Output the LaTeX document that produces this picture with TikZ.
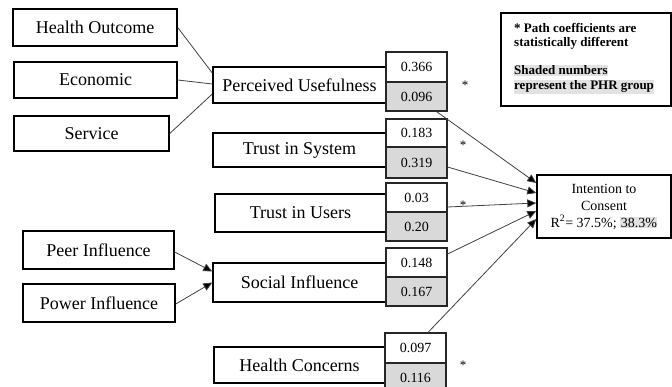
\documentclass[tikz,border=0pt]{standalone}
\usepackage{fontspec}
\setmainfont{Liberation Serif}
\usetikzlibrary{arrows.meta,calc}
\definecolor{shade}{HTML}{D9D9D9}
\definecolor{hl}{HTML}{E2E2E2}
\definecolor{lin}{HTML}{404040}
\begin{document}
\begin{tikzpicture}[x=1pt,y=-1pt,
  mainbox/.style={draw=black,line width=1.4pt,minimum width=173pt,inner sep=0pt,font=\fontsize{18}{20}\selectfont},
  cbox/.style={draw=black!85,line width=1.1pt,minimum width=61pt,inner sep=0pt,font=\fontsize{14}{15}\selectfont},
  ctop/.style={cbox,fill=white},
  cshade/.style={cbox,fill=shade},
  conn/.style={draw=lin,line width=0.8pt},
  arr/.style={conn,-{Triangle[length=9pt,width=8pt,fill=black]}},
  star/.style={font=\fontsize{13}{13}\selectfont,inner sep=0pt},
  legline/.style={anchor=base west,inner xsep=0pt,inner ysep=1.2pt,font=\fontsize{13}{14}\bfseries\selectfont},
]
\useasboundingbox (0,0) rectangle (672,387);

% left boxes
\node[mainbox,minimum width=164pt,minimum height=37pt] (ho) at (95,27.5) {Health Outcome};
\node[mainbox,minimum width=163pt,minimum height=36pt] (eco) at (95.5,80) {Economic};
\node[mainbox,minimum width=155pt,minimum height=35pt] (ser) at (91.5,133.5) {Service};
\node[mainbox,minimum width=151pt,minimum height=38pt] (peer) at (98.5,250) {Peer Influence};
\node[mainbox,minimum width=152pt,minimum height=38pt] (pow) at (99,303) {Power Influence};

% middle boxes
\node[mainbox,minimum height=36pt] (pu) at (299.5,85) {Perceived Usefulness};
\node[mainbox,minimum height=34pt] (ts) at (299.5,150) {Trust in System};
\node[mainbox,minimum width=171pt,minimum height=38pt] (tu) at (300.5,213) {Trust in Users};
\node[mainbox,minimum height=39pt] (si) at (299.5,282.5) {Social Influence};
\node[mainbox,minimum width=171pt,minimum height=36pt] (hc) at (299.5,365) {Health Concerns};

% coefficient boxes
\node[ctop,minimum height=30pt] (c1a) at (416.5,67) {0.366};
\node[cshade,minimum height=29pt] (c1b) at (416.5,96.5) {0.096};
\node[ctop,minimum height=28pt] (c2a) at (416.5,133) {0.183};
\node[cshade,minimum height=31pt] (c2b) at (416.5,162.5) {0.319};
\node[ctop,minimum height=29pt] (c3a) at (416.5,197.5) {0.03};
\node[cshade,minimum height=29pt] (c3b) at (416.5,226.5) {0.20};
\node[ctop,minimum height=29pt] (c4a) at (416.5,262.5) {0.148};
\node[cshade,minimum height=29pt] (c4b) at (416.5,291.5) {0.167};
\node[ctop,minimum height=30pt] (c5a) at (415.5,348) {0.097};
\node[cshade,minimum height=29pt] (c5b) at (415.5,377.5) {0.116};

% stars
\node[star] (s1) at (465,85) {*};
\node[star] (s2) at (463,145) {*};
\node[star] (s3) at (463,205) {*};
\node[star] (s4) at (463,365) {*};

% outcome
\node[draw=black,line width=1.4pt,minimum width=134pt,minimum height=63pt,inner sep=0pt,align=center,
      font=\fontsize{14}{17}\selectfont] (icn) at (604,206.5)
  {Intention to\\Consent\\R\textsuperscript{2}= 37.5\%; {\setlength{\fboxsep}{0.5pt}\colorbox{hl}{38.3\%}}};

% legend
\node[draw=black,line width=1.4pt,minimum width=170pt,minimum height=93pt,inner sep=0pt] (leg) at (586,59.5) {};
\node[legline] (l1) at (514,33) {* Path coefficients are};
\node[legline] (l2) at (514,47) {statistically different};
\node[legline,fill=hl] (l3) at (514,75) {Shaded numbers};
\node[legline,fill=hl] (l4) at (514,90) {represent the PHR group};

% connectors to PU
\draw[conn] (ho.east) -- ([yshift=12pt]pu.west);
\draw[conn] (eco.east) -- ([yshift=1pt]pu.west);
\draw[conn] (ser.east) -- ([yshift=-9pt]pu.west);

% social influence
\draw[arr] ([yshift=-2pt]peer.east) -- ([yshift=11pt]si.west);
\draw[arr] ([yshift=-1pt]pow.east) -- ([yshift=0pt]si.west);

% to intention
\draw[arr] ([xshift=20pt]c1b.south) -- ([yshift=23.5pt]icn.west);
\draw[arr] ([yshift=-4.5pt]c2b.east) -- ([yshift=13.5pt]icn.west);
\draw[arr] ([yshift=-9.5pt]c3a.east) -- ([yshift=3.5pt]icn.west);
\draw[arr] ([yshift=8.5pt]c4a.east) -- ([yshift=-4.5pt]icn.west);
\draw[arr] ([xshift=12.5pt]c5a.north) -- ([yshift=-12.5pt]icn.west);
\end{tikzpicture}
\end{document}
